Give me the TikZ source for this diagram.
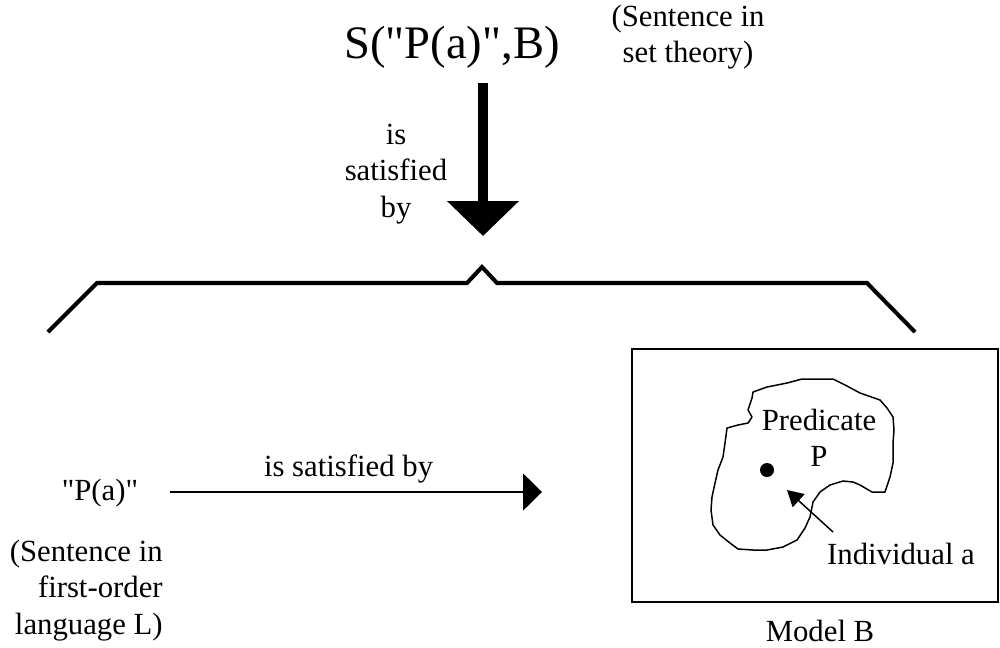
\documentclass[tikz,border=0pt]{standalone}
\usepackage{fontspec}
\setmainfont{Liberation Serif}[Ligatures=TeXOff]
\usetikzlibrary{arrows.meta, positioning}

\begin{document}
\begin{tikzpicture}[x=0.02cm, y=-0.02cm, line join=miter]
        % --- STILI ---
        \tikzset{
            txt/.style={font=\fontsize{17.5}{20.6}\selectfont, inner sep=0pt, align=center},
            big/.style={font=\fontsize{26.5}{30}\selectfont, inner sep=0pt},
            bracket/.style={line width=2.3pt},
            outline/.style={line width=0.85pt, line join=round},
            droparrow/.style={line width=5.7pt, -{Triangle[length=19.9pt, width=39.8pt]}},
            satarrow/.style={line width=1.1pt, -{Triangle[length=10.8pt, width=21pt]}},
            pointer/.style={line width=0.85pt, -{Triangle[length=9pt, width=10pt]}}
        }
        \useasboundingbox (0,0) rectangle (1000,647);

        % --- TOP: SET THEORY ---
        \node [big] (title) at (452,47) {S("P(a)",B)};
        \node [txt] (note_set) at (688,37) {(Sentence in\\set theory)};
        \node [txt] (sat_v) at (396,174) {is\\satisfied\\by};

        \coordinate (drop_top) at (483,83);
        \coordinate (drop_tip) at (483,236);
        \draw [droparrow] (drop_top) -- (drop_tip);

        % --- BRACKET ---
        \coordinate (br_left) at (48,332);
        \coordinate (br_right) at (915,332);
        \coordinate (br_peak) at (482,267);
        \draw [bracket] (br_left) -- (97,283) -- (467,283) -- (br_peak)
            -- (497,283) -- (867,283) -- (br_right);

        % --- LEFT: FIRST-ORDER SENTENCE ---
        \node [txt] (sentence) at (100,493) {"P(a)"};
        \node [txt, align=right, anchor=north east] (note_fol) at (163,540)
            {(Sentence in\\first-order\\language L)};

        \coordinate (sat_start) at (170,492);
        \coordinate (sat_end) at (542,492);
        \draw [satarrow] (sat_start) -- node[txt, above=4.7pt, pos=0.48] (sat_h) {is satisfied by} (sat_end);

        % --- RIGHT: MODEL ---
        \node [draw, line width=1pt, minimum width=7.32cm, minimum height=5.06cm] (model) at (815,475.5) {};
        \node [txt, below=0.34cm of model, xshift=0.1cm] (model_lbl) {Model B};

        \draw [outline] (753,392) -- (767,387) -- (787,383) -- (802,379) -- (817,379)
            -- (833,379) -- (847,386) -- (860,393) -- (880,400) -- (887,408)
            -- (893,417) -- (894,430) -- (893,443) -- (893,463) -- (890,477)
            -- (885,492) -- (872,492) -- (860,485) -- (853,482) -- (843,481)
            -- (830,485) -- (820,492) -- (813,502) -- (810,517) -- (805,528)
            -- (797,540) -- (783,547) -- (767,550) -- (753,550) -- (738,549)
            -- (730,543) -- (720,535) -- (713,525) -- (711,510) -- (712,497)
            -- (715,483) -- (718,470) -- (723,457) -- (725,443) -- (727,428)
            -- (738,425) -- (748,423) -- (752,417) -- (748,410) -- (752,398) -- cycle;

        \node [txt, anchor=north] (predicate) at (819,409) {Predicate\\P};
        \fill (767,470) circle (0.14cm);
        \node [txt, anchor=north] (indiv) at (901,543) {Individual a};

        \coordinate (ptr_tail) at (833,532);
        \coordinate (ptr_tip) at (787,490);
        \draw [pointer] (ptr_tail) -- (ptr_tip);

    \end{tikzpicture}
\end{document}
